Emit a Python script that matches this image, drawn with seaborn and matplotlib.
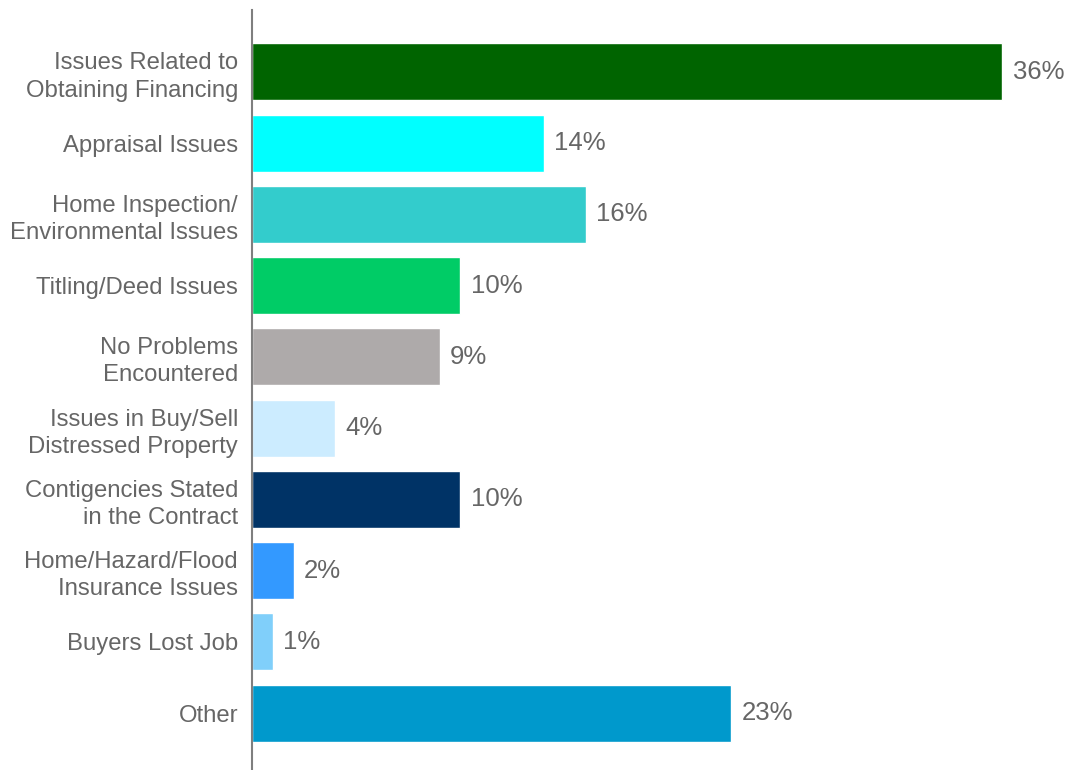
import matplotlib
matplotlib.use("Agg")
import matplotlib.pyplot as plt
import seaborn as sns
import pandas as pd

categories = [
    "Issues Related to\nObtaining Financing",
    "Appraisal Issues",
    "Home Inspection/\nEnvironmental Issues",
    "Titling/Deed Issues",
    "No Problems\nEncountered",
    "Issues in Buy/Sell\nDistressed Property",
    "Contigencies Stated\nin the Contract",
    "Home/Hazard/Flood\nInsurance Issues",
    "Buyers Lost Job",
    "Other",
]
values = [36, 14, 16, 10, 9, 4, 10, 2, 1, 23]
colors = [
    "#006400", "#00FFFF", "#33CCCC", "#00CC66", "#AEAAAA",
    "#CCECFF", "#003366", "#3399FF", "#80CFFA", "#0099CC",
]

df = pd.DataFrame({"category": categories, "value": values})

sns.set_theme(style="white")
plt.rcParams["font.family"] = ["Liberation Sans", "DejaVu Sans"]

fig = plt.figure(figsize=(10.67, 7.7), dpi=100)
ax = fig.add_axes([252 / 1067, 0.0, 1 - 252 / 1067, 1 - 10 / 770])

sns.barplot(data=df, x="value", y="category", hue="category",
            palette=colors, legend=False, width=0.8, saturation=1,
            orient="h", ax=ax)

text_color = "#666666"
for i, v in enumerate(values):
    ax.text(v + 0.5, i, f"{v}%", va="center", ha="left",
            fontsize=18.5, color=text_color)

ax.set_xlim(0, 39.1)
ax.set_ylim(9.8, -0.87)
ax.set_xlabel("")
ax.set_ylabel("")
ax.set_xticks([])
ax.tick_params(axis="y", length=0, pad=10, labelsize=17.2, labelcolor=text_color)
for lbl in ax.get_yticklabels():
    lbl.set_horizontalalignment("right")
    lbl.set_multialignment("right")
    lbl.set_linespacing(1.3)

for s in ["top", "right", "bottom"]:
    ax.spines[s].set_visible(False)
ax.spines["left"].set_color("#7F7F7F")
ax.spines["left"].set_linewidth(1.5)

fig.savefig("out.png", dpi=100)
